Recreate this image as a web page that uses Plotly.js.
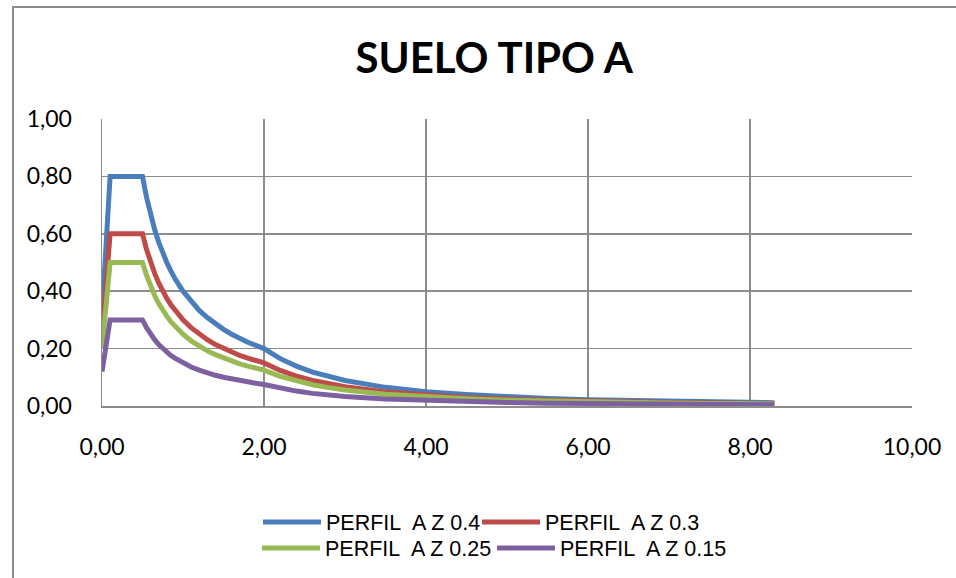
<!DOCTYPE html>
<html>
<head>
<meta charset="utf-8">
<script src="https://cdn.plot.ly/plotly-3.0.1.min.js"></script>
<style>
  html, body { margin: 0; padding: 0; background: #fff; }
  #wrap { position: relative; width: 956px; height: 578px; overflow: hidden; }
  #chart { position: absolute; left: 0; top: 0; width: 956px; height: 578px; }
  #frame { position: absolute; left: 12px; top: 6px; width: 2000px; height: 2000px;
           border-left: 2px solid #8c8c8c; border-top: 2px solid #8c8c8c; pointer-events: none; }
</style>
</head>
<body>
<div id="wrap">
  <div id="chart"></div>
  <div id="frame"></div>
</div>
<script>
// Period T (s)
const periods = [0, 0.1, 0.2, 0.3, 0.4, 0.5, 0.55, 0.6, 0.65, 0.7, 0.75, 0.8, 0.85, 0.9, 1.0, 1.1, 1.2, 1.3, 1.4, 1.5, 1.6, 1.7, 1.8, 1.9, 2.0,
                 2.2, 2.4, 2.6, 2.8, 3.0, 3.5, 4.0, 4.5, 5.0, 5.5, 6.0, 6.5, 7.0, 7.5, 8.0, 8.3];

const seriesNames = ["PERFIL\u00a0 A Z 0.4", "PERFIL\u00a0 A Z 0.3", "PERFIL\u00a0 A Z 0.25", "PERFIL\u00a0 A Z 0.15"];

const z040 = [0.32, 0.80, 0.80, 0.80, 0.80, 0.80, 0.727, 0.667, 0.615, 0.571, 0.533, 0.500, 0.471, 0.444, 0.400, 0.364, 0.333, 0.308, 0.286, 0.267, 0.250, 0.235, 0.222, 0.211, 0.200,
              0.165, 0.139, 0.118, 0.102, 0.089, 0.065, 0.050, 0.040, 0.032, 0.026, 0.022, 0.019, 0.016, 0.014, 0.0125, 0.0116];
const z030 = [0.24, 0.60, 0.60, 0.60, 0.60, 0.60, 0.545, 0.500, 0.462, 0.429, 0.400, 0.375, 0.353, 0.333, 0.300, 0.273, 0.250, 0.231, 0.214, 0.200, 0.188, 0.176, 0.167, 0.158, 0.150,
              0.124, 0.104, 0.089, 0.077, 0.067, 0.049, 0.0375, 0.030, 0.024, 0.020, 0.0167, 0.0142, 0.0122, 0.0107, 0.0094, 0.0087];
const z025 = [0.20, 0.50, 0.50, 0.50, 0.50, 0.50, 0.455, 0.417, 0.385, 0.357, 0.333, 0.313, 0.294, 0.278, 0.250, 0.227, 0.208, 0.192, 0.179, 0.167, 0.156, 0.147, 0.139, 0.132, 0.125,
              0.103, 0.087, 0.074, 0.064, 0.056, 0.041, 0.031, 0.025, 0.020, 0.0165, 0.0139, 0.0118, 0.0102, 0.0089, 0.0078, 0.0073];
const z015 = [0.12, 0.30, 0.30, 0.30, 0.30, 0.30, 0.273, 0.250, 0.231, 0.214, 0.200, 0.188, 0.176, 0.167, 0.150, 0.136, 0.125, 0.115, 0.107, 0.100, 0.094, 0.088, 0.083, 0.079, 0.075,
              0.062, 0.052, 0.044, 0.038, 0.033, 0.024, 0.019, 0.015, 0.012, 0.0099, 0.0083, 0.0071, 0.0061, 0.0053, 0.0047, 0.0044];

const xTicks = [0, 2, 4, 6, 8, 10];
const yTicks = [0, 0.2, 0.4, 0.6, 0.8, 1.0];

const colors = ["#4A7EBB", "#BE4B48", "#98B954", "#7D60A0"];
const allSeries = [z040, z030, z025, z015];
const legendIds = ["legend", "legend2", "legend3", "legend4"];

const traces = allSeries.map((ys, i) => ({
  x: periods, y: ys, type: "scatter", mode: "lines",
  name: seriesNames[i],
  legend: legendIds[i],
  line: { color: colors[i], width: 5 }
}));

const font = "Lato, 'Open Sans', sans-serif";
const legendFont = "'Liberation Sans', Arial, sans-serif";
const legendCommon = {
  orientation: "h", xref: "container", yref: "container",
  xanchor: "left", yanchor: "middle", itemwidth: 58,
  font: { family: legendFont, size: 21.5, color: "#000" },
  bgcolor: "rgba(0,0,0,0)", traceorder: "normal"
};

const layout = {
  width: 956, height: 578,
  margin: { l: 102, r: 44, t: 119, b: 172 },
  paper_bgcolor: "rgba(0,0,0,0)", plot_bgcolor: "#fff",
  separators: ",.",
  font: { family: font, size: 23, color: "#000" },
  title: { text: "<b>SUELO TIPO A</b>", xref: "container", x: 0.517, xanchor: "center",
           yref: "container", y: 1 - 58 / 578, yanchor: "middle",
           font: { family: font, size: 42, color: "#000" } },
  xaxis: {
    range: [0, 10], tickvals: xTicks, tickformat: ".2f",
    showgrid: true, gridcolor: "#8c8c8c", gridwidth: 1.5,
    showline: true, linecolor: "#8c8c8c", linewidth: 1.5, mirror: false,
    zeroline: false, ticks: "", ticklabelstandoff: 20,
    tickfont: { family: font, size: 23, color: "#000" }, fixedrange: true
  },
  yaxis: {
    range: [0, 1.0], tickvals: yTicks, tickformat: ".2f",
    showgrid: true, gridcolor: "#8c8c8c", gridwidth: 1.5,
    showline: true, linecolor: "#8c8c8c", linewidth: 1.5,
    zeroline: false, ticks: "", ticklabelstandoff: 24,
    tickfont: { family: font, size: 23, color: "#000" }, fixedrange: true
  },
  legend:  Object.assign({}, legendCommon, { x: 258 / 956, y: 1 - 522 / 578 }),
  legend2: Object.assign({}, legendCommon, { x: 477 / 956, y: 1 - 522 / 578 }),
  legend3: Object.assign({}, legendCommon, { x: 257 / 956, y: 1 - 548 / 578 }),
  legend4: Object.assign({}, legendCommon, { x: 492 / 956, y: 1 - 548 / 578 }),
  showlegend: true
};

Plotly.newPlot("chart", traces, layout, { staticPlot: true, displayModeBar: false });
</script>
</body>
</html>
